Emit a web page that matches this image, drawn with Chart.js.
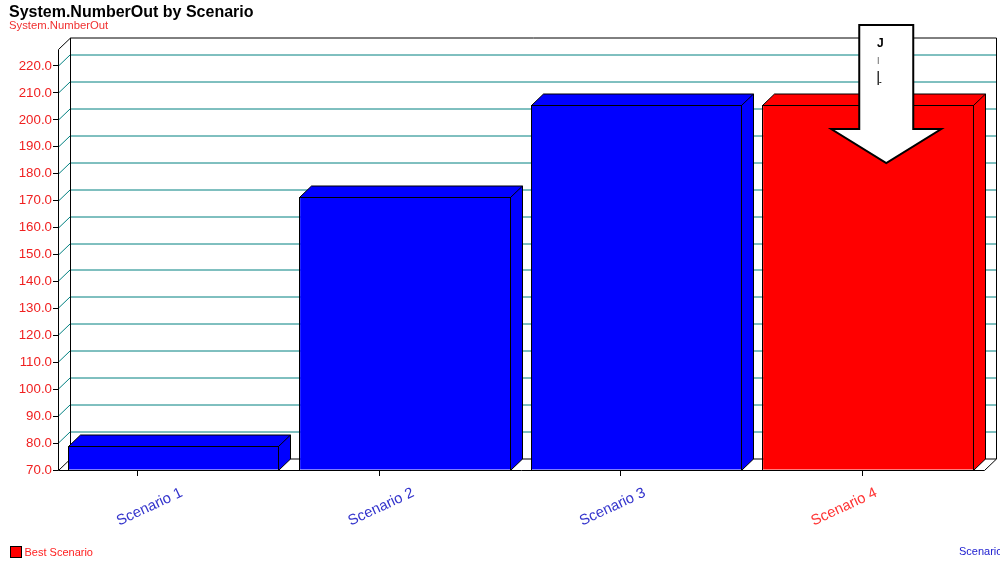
<!DOCTYPE html>
<html>
<head>
<meta charset="utf-8">
<style>
  html, body { margin: 0; padding: 0; background: #fff; }
  #wrap { width: 1000px; height: 563px; position: relative; overflow: hidden; }
</style>
<script src="https://cdn.jsdelivr.net/npm/chart.js@4/dist/chart.umd.min.js"></script>
</head>
<body>
<div id="wrap"><canvas id="chart" width="1000" height="563"></canvas></div>
<script>
const categories = ["Scenario 1", "Scenario 2", "Scenario 3", "Scenario 4"];
const numberOut = [78.9, 171.4, 205.5, 205.5];
const barColors = ["#0000ff", "#0000ff", "#0000ff", "#ff0000"];
const labelColors = ["#3333cc", "#3333cc", "#3333cc", "#ff3333"];
const titleText = "System.NumberOut by Scenario";
const subtitleText = "System.NumberOut";
const bestLabel = "Best Scenario";
const rightLegendLabel = "Scenario";
const arrowGlyphs = ["J", "|", "|", "-"];
const bestIndex = 3;
const axisMin = 70;

const depthX = 12, depthY = 11.5;
const FONT = '"Liberation Sans", Arial, sans-serif';

// Crisp pixel edges of a bar element, snapped so the outlines sit on whole pixels.
function barEdges(bar, a) {
  return {
    l: Math.round(bar.x - bar.width / 2 - 0.7) + 0.5,
    r: Math.round(bar.x + bar.width / 2 - 0.7) + 0.5,
    t: Math.round(bar.y) + 0.5,
    b: Math.round(a.bottom) + 0.5
  };
}

// Oblique walls, floor and grid behind the bars, then each bar's top and side faces.
const depthPlugin = {
  id: "depth",
  beforeDatasetsDraw(chart) {
    const { ctx, chartArea: a, scales } = chart;
    const y = scales.y;
    ctx.save();
    ctx.lineWidth = 1;

    ctx.strokeStyle = "#008080";
    y.ticks.forEach(t => {
      if (t.value === y.min) return;
      const py = Math.round(y.getPixelForValue(t.value)) + 0.5;
      ctx.beginPath();
      ctx.moveTo(a.left, py);
      ctx.lineTo(a.left + depthX, py - depthY);
      ctx.lineTo(a.right + depthX, py - depthY);
      ctx.stroke();
    });

    ctx.strokeStyle = "#000";
    ctx.beginPath();
    // back wall
    ctx.rect(a.left + depthX + 0.5, a.top - depthY + 0.5, a.right - a.left, a.bottom - a.top);
    // left wall edges
    ctx.moveTo(a.left + 0.5, a.top + 0.5);
    ctx.lineTo(a.left + depthX + 0.5, a.top - depthY + 0.5);
    ctx.moveTo(a.left + 0.5, a.bottom + 0.5);
    ctx.lineTo(a.left + depthX + 0.5, a.bottom - depthY + 0.5);
    // floor edge at the right
    ctx.moveTo(a.right + 0.5, a.bottom + 0.5);
    ctx.lineTo(a.right + depthX + 0.5, a.bottom - depthY + 0.5);
    ctx.stroke();

    chart.getDatasetMeta(0).data.forEach((bar, i) => {
      const { l, r, t, b } = barEdges(bar, a);
      ctx.fillStyle = barColors[i];
      ctx.beginPath();
      ctx.moveTo(l, t);
      ctx.lineTo(l + depthX, t - depthY);
      ctx.lineTo(r + depthX, t - depthY);
      ctx.lineTo(r + depthX, b - depthY);
      ctx.lineTo(r, b);
      ctx.lineTo(r, t);
      ctx.closePath();
      ctx.fill();
      ctx.stroke();
    });
    ctx.restore();
  },
  afterDatasetsDraw(chart) {
    const { ctx, chartArea: a, scales } = chart;
    ctx.save();
    ctx.strokeStyle = "#000";
    ctx.lineWidth = 1;

    // bar outlines: front rectangle and the edge running back from its top right corner
    chart.getDatasetMeta(0).data.forEach(bar => {
      const { l, r, t, b } = barEdges(bar, a);
      ctx.strokeRect(l, t, r - l, b - t);
      ctx.beginPath();
      ctx.moveTo(r, t);
      ctx.lineTo(r + depthX, t - depthY);
      ctx.stroke();
    });

    ctx.beginPath();
    // front axis lines over the bars
    ctx.moveTo(a.left + 0.5, a.top + 0.5);
    ctx.lineTo(a.left + 0.5, a.bottom + 0.5);
    ctx.lineTo(a.right + 0.5, a.bottom + 0.5);
    // category tick marks follow their own evenly spaced scale
    categories.forEach((c, i) => {
      const px = Math.round(scales.tickX.getPixelForValue(i)) + 0.5;
      ctx.moveTo(px, a.bottom);
      ctx.lineTo(px, a.bottom + 6);
    });
    ctx.stroke();
    ctx.restore();
  },
  afterDraw(chart) {
    const { ctx } = chart;
    const best = chart.getDatasetMeta(0).data[bestIndex];
    ctx.save();

    // marker arrow pointing down onto the best bar
    const cx = best.x + 18, top = best.y - 80, headY = best.y + 24, tipY = best.y + 58;
    ctx.fillStyle = "#fff";
    ctx.strokeStyle = "#000";
    ctx.lineWidth = 2;
    ctx.lineJoin = "miter";
    ctx.beginPath();
    ctx.moveTo(cx - 27, top);
    ctx.lineTo(cx + 27, top);
    ctx.lineTo(cx + 27, headY);
    ctx.lineTo(cx + 55, headY);
    ctx.lineTo(cx, tipY);
    ctx.lineTo(cx - 55, headY);
    ctx.lineTo(cx - 27, headY);
    ctx.closePath();
    ctx.fill();
    ctx.stroke();

    // fragments of the marker's caption inside the shaft
    ctx.fillStyle = "#000";
    ctx.textAlign = "center";
    ctx.textBaseline = "middle";
    ctx.font = "bold 12px " + FONT;
    ctx.fillText(arrowGlyphs[0], cx - 6, top + 19);
    ctx.font = "7px " + FONT;
    ctx.fillText(arrowGlyphs[1], cx - 8, top + 35);
    ctx.font = "15px " + FONT;
    ctx.fillText(arrowGlyphs[2], cx - 8, top + 53);
    ctx.font = "bold 8px " + FONT;
    ctx.fillText(arrowGlyphs[3], cx - 6, top + 57);

    // legend row
    ctx.fillStyle = "#ff0000";
    ctx.strokeStyle = "#000";
    ctx.lineWidth = 1;
    ctx.fillRect(10.5, 546.5, 11, 11);
    ctx.strokeRect(10.5, 546.5, 11, 11);
    ctx.font = "11px " + FONT;
    ctx.textBaseline = "middle";
    ctx.textAlign = "left";
    ctx.fillStyle = "#ff2020";
    ctx.fillText(bestLabel, 24.5, 553);
    ctx.fillStyle = "#2020d0";
    ctx.fillText(rightLegendLabel, 959, 552);
    ctx.restore();
  }
};

new Chart(document.getElementById("chart"), {
  type: "bar",
  plugins: [depthPlugin],
  data: {
    labels: categories,
    datasets: [{
      data: numberOut,
      base: axisMin,
      backgroundColor: barColors,
      borderWidth: 0,
      barPercentage: 0.908,
      categoryPercentage: 1
    }]
  },
  options: {
    responsive: false,
    animation: false,
    layout: { padding: { left: 9, right: 16, top: 0, bottom: 0 } },
    plugins: {
      legend: { display: false },
      tooltip: { enabled: false },
      title: {
        display: true, text: titleText, align: "start", color: "#000",
        font: { family: FONT, size: 16, weight: "bold", lineHeight: 0.875 },
        padding: { top: 6, bottom: 0 }
      },
      subtitle: {
        display: true, text: subtitleText, align: "start", color: "#f03030",
        font: { family: FONT, size: 11.3, lineHeight: 1 },
        padding: { top: 0, bottom: 17.7 }
      }
    },
    scales: {
      x: {
        type: "category",
        offset: true,
        grid: { display: false },
        border: { display: false },
        afterFit(s) { s.height = 93; },
        ticks: {
          autoSkip: false, minRotation: 25, maxRotation: 25, padding: 6, labelOffset: 8,
          color: c => labelColors[c.index],
          font: { family: FONT, size: 14.8 }
        }
      },
      tickX: {
        type: "linear", axis: "x", display: false, position: "bottom",
        offset: false, min: -0.327, max: 3.505
      },
      y: {
        type: "linear",
        min: axisMin, max: 226.3,
        grid: { drawOnChartArea: false, drawTicks: true, tickLength: 5, color: "#000" },
        border: { display: false },
        afterFit(s) { s.width = 49; },
        afterBuildTicks(s) { s.ticks = s.ticks.filter(t => t.value % 10 === 0); },
        ticks: {
          stepSize: 10, padding: 1, color: "#f02020",
          font: { family: FONT, size: 13.3 },
          callback: v => v.toFixed(1)
        }
      }
    }
  }
});
</script>
</body>
</html>
